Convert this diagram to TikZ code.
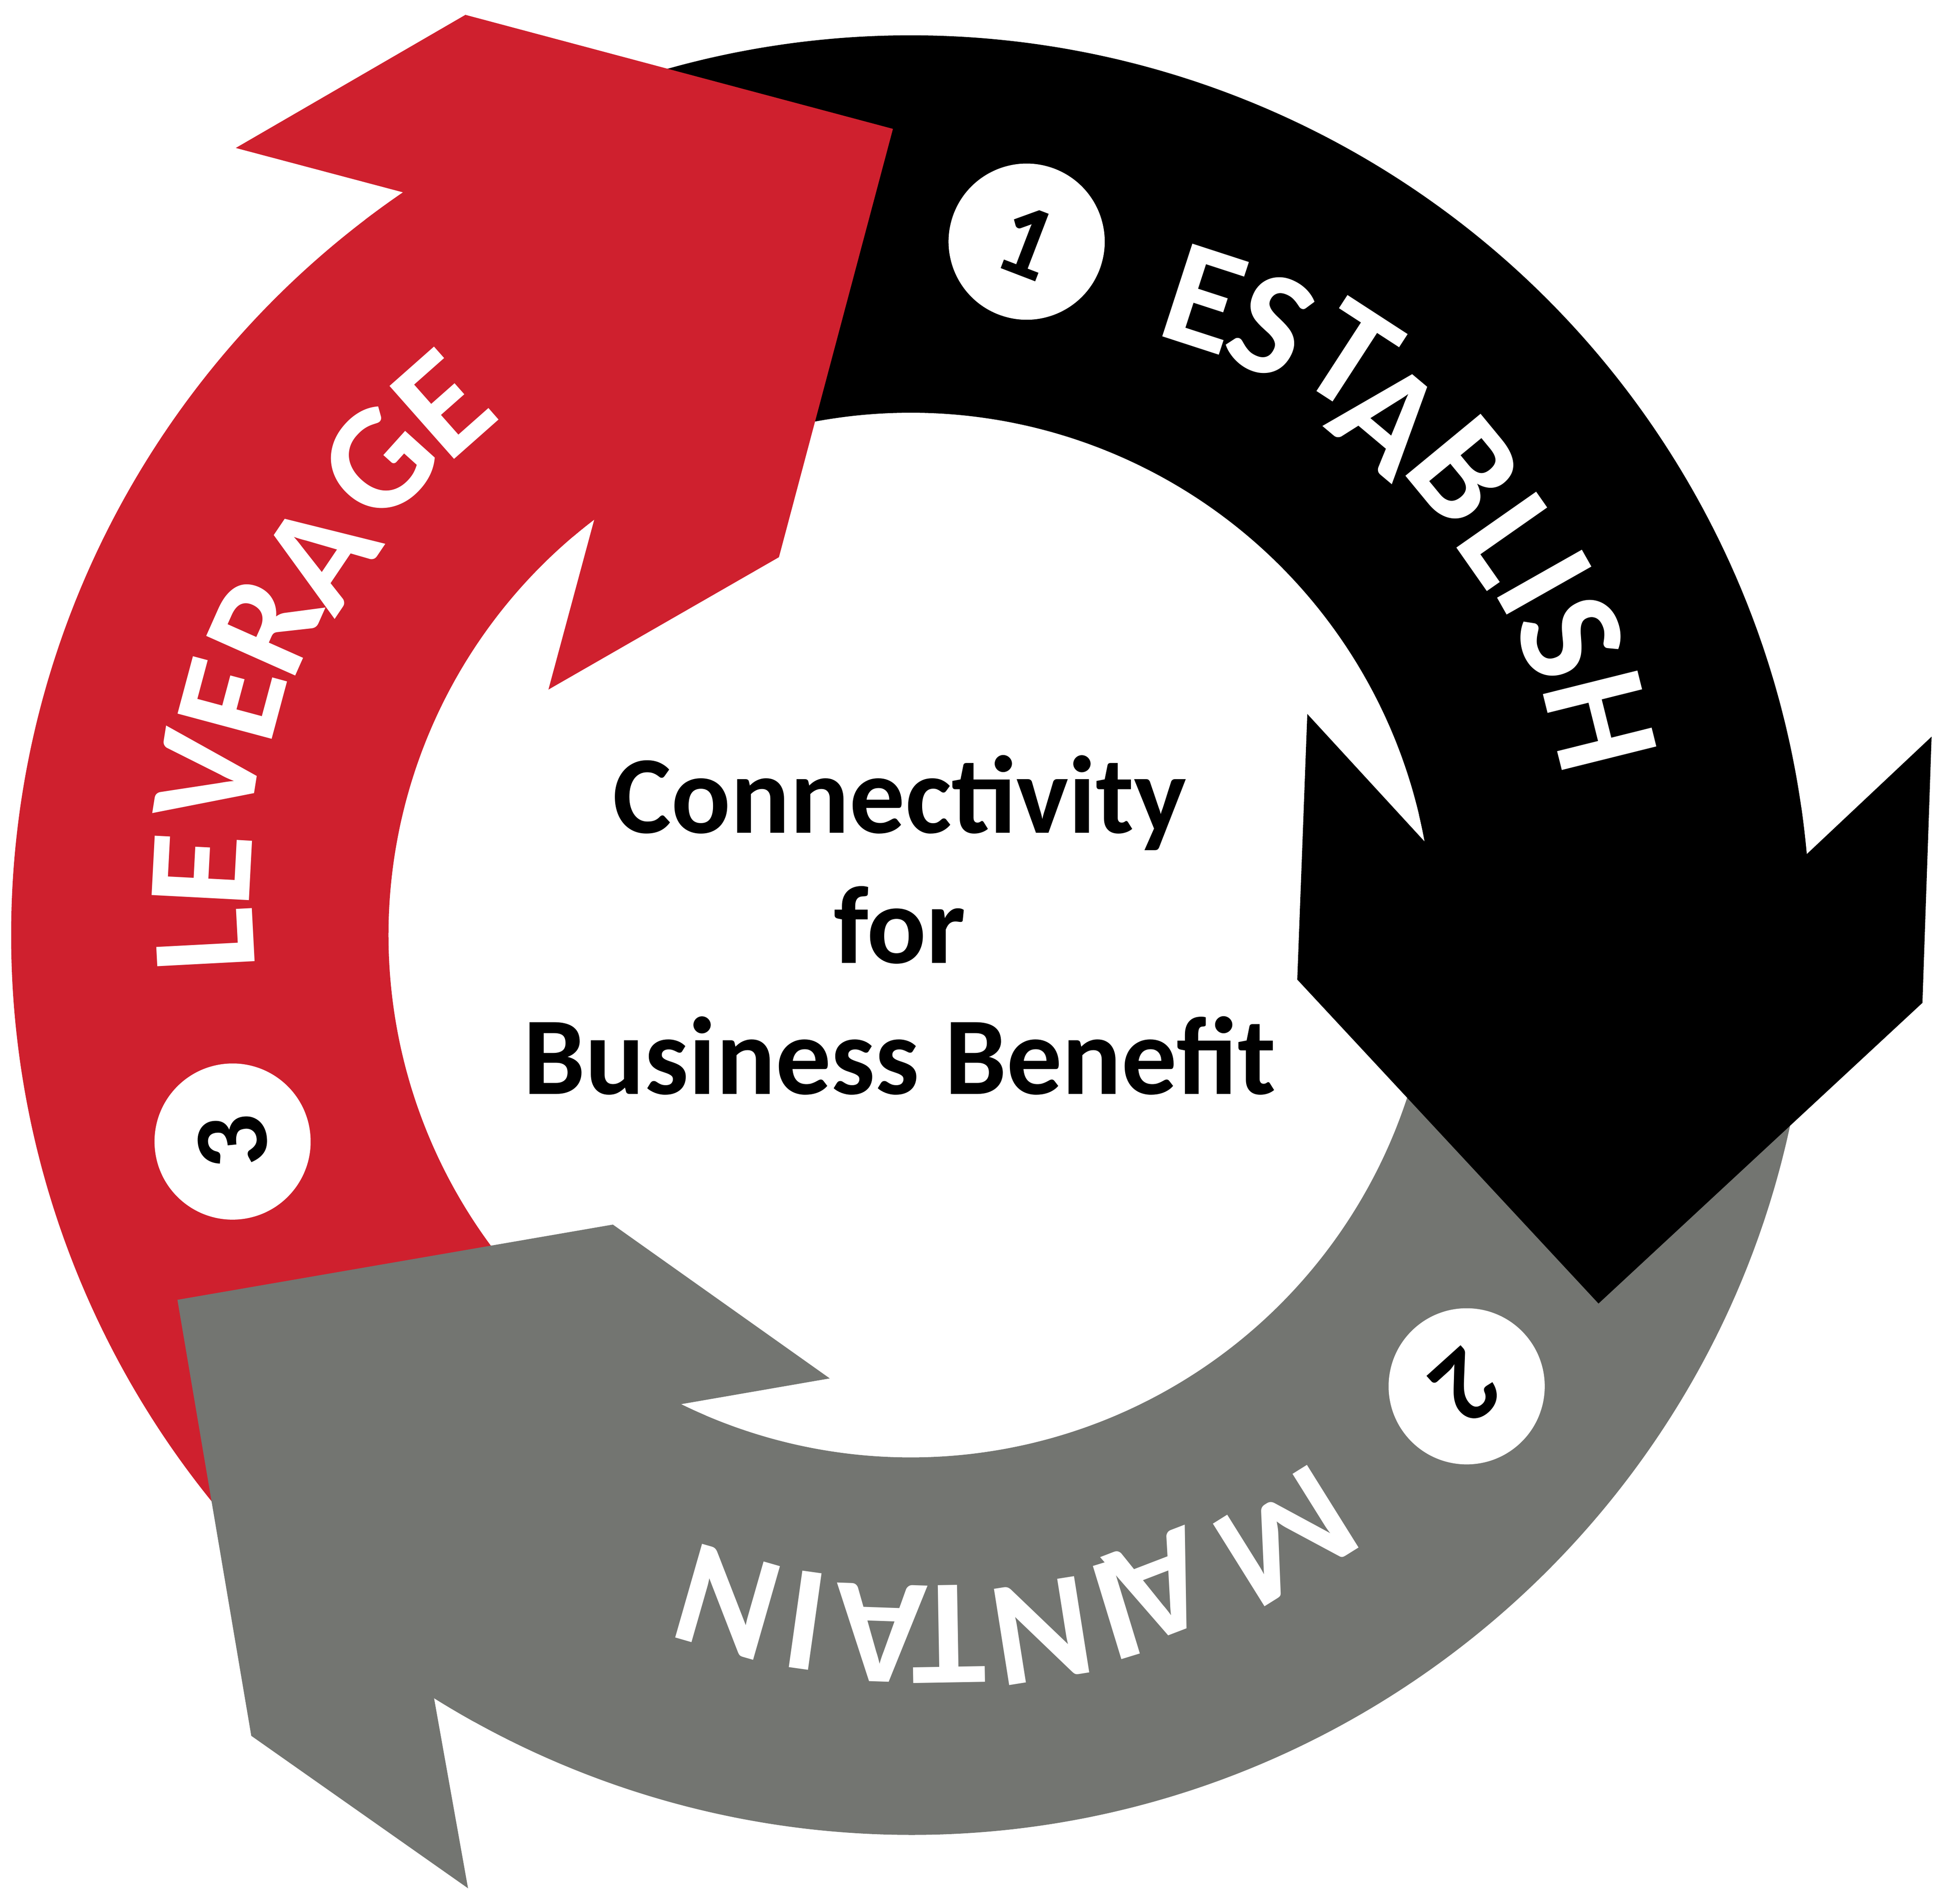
\documentclass[tikz,border=0pt]{standalone}
\usepackage{fontspec}
\setmainfont{Carlito}
\usepackage{tikz}

\definecolor{levred}{RGB}{207,32,46}
\definecolor{maingray}{RGB}{115,117,113}

\tikzset{
  ringletter/.style={text=white, inner sep=0pt,
    font=\fontsize{34.5}{40}\selectfont\bfseries},
  numdisc/.style={circle, fill=white, minimum size=12.6mm, inner sep=0pt,
    font=\fontsize{24}{28}\selectfont\bfseries},
  hubtext/.style={anchor=base, inner sep=0pt,
    font=\fontsize{25.4}{30}\selectfont\bfseries}
}

\begin{document}
\begin{tikzpicture}[x=0.1mm, y=0.1mm]

\useasboundingbox (-735,-781.8) rectangle (833,754.5);

\fill[maingray] (-5:726) arc[start angle=-5, end angle=-122, radius=726]
  -- (-116.1:421.5) arc[start angle=-116.1, end angle=-5, radius=421.5] -- cycle;
\fill[black] (115:726) arc[start angle=115, end angle=5.16, radius=726]
  -- (10.31:421.5) arc[start angle=10.31, end angle=115, radius=421.5] -- cycle;
\fill[levred] (234:726) arc[start angle=234, end angle=124.36, radius=726]
  -- (127.3:421.5) arc[start angle=127.3, end angle=234, radius=421.5] -- cycle;

\fill[maingray] (-119:726) arc[start angle=-119, end angle=-122, radius=726]
  -- (-357.3,-769.1) -- (-532.2,-646.1) -- (-591.8,-294.3)
  -- (-240.4,-233.6) -- (-65.4,-357.7)
  -- (-116.1:421.5) arc[start angle=-116.1, end angle=-113.1, radius=421.5] -- cycle;
\fill[black] (8.16:726) arc[start angle=8.16, end angle=5.16, radius=726]
  -- (823.8,160.1) -- (816.4,-54.7) -- (555,-297.3)
  -- (311.9,-35.9) -- (320,178.4)
  -- (10.31:421.5) arc[start angle=10.31, end angle=13.31, radius=421.5] -- cycle;
\fill[levred] (127.36:726) arc[start angle=127.36, end angle=124.36, radius=726]
  -- (-544.7,635.1) -- (-359.4,742.5) -- (-14.4,650.5)
  -- (-106.4,304.9) -- (-292.4,198.1)
  -- (127.3:421.5) arc[start angle=127.3, end angle=130.3, radius=421.5] -- cycle;

\node[numdisc, rotate=-21] (num1) at (93.5,559.5) {1};
\node[numdisc, rotate=-138] (num2) at (448.6,-364.1) {2};
\node[numdisc, rotate=96] (num3) at (-547.3,-166.6) {3};

\node[ringletter, rotate=-18] (est1) at (236.6,513.5) {E};
\node[ringletter, rotate=-25] (est2) at (290.7,492.1) {S};
\node[ringletter, rotate=-33] (est3) at (355.5,467.6) {T};
\node[ringletter, rotate=-40] (est4) at (385.6,417.4) {A};
\node[ringletter, rotate=-50.5] (est5) at (446.7,374.7) {B};
\node[ringletter, rotate=-55] (est6) at (483.8,319.2) {L};
\node[ringletter, rotate=-60.5] (est7) at (511.5,284.5) {I};
\node[ringletter, rotate=-67] (est8) at (532.3,240.3) {S};
\node[ringletter, rotate=-76] (est9) at (556.2,173.1) {H};

\node[ringletter, rotate=-148] (mnt1) at (302.6,-484.7) {M};
\node[ringletter, rotate=-159] (mnt2) at (201.4,-525.5) {A};
\node[ringletter, rotate=-163] (mnt3) at (165.9,-544.6) {I};
\node[ringletter, rotate=-171] (mnt4) at (105.9,-561.5) {N};
\node[ringletter, rotate=-179] (mnt5) at (30.6,-563.7) {T};
\node[ringletter, rotate=-182] (mnt6) at (-24,-563) {A};
\node[ringletter, rotate=-188] (mnt7) at (-85.1,-553) {I};
\node[ringletter, rotate=-196] (mnt8) at (-147.7,-538.1) {N};

\node[ringletter, rotate=93] (lev1) at (-569.8,-4.1) {L};
\node[ringletter, rotate=87] (lev2) at (-572.2,52.5) {E};
\node[ringletter, rotate=81] (lev3) at (-567.5,127.4) {V};
\node[ringletter, rotate=75] (lev4) at (-547.9,190.1) {E};
\node[ringletter, rotate=66] (lev5) at (-521.6,250.1) {R};
\node[ringletter, rotate=56] (lev6) at (-477.1,307) {A};
\node[ringletter, rotate=48] (lev7) at (-429.9,381.5) {G};
\node[ringletter, rotate=41.5] (lev8) at (-377.7,428.4) {E};

\node[hubtext] (hub1) at (-9,82.5) {Connectivity};
\node[hubtext] (hub2) at (-9,-22.5) {for};
\node[hubtext] (hub3) at (-9,-128.5) {Business Benefit};

\end{tikzpicture}
\end{document}
